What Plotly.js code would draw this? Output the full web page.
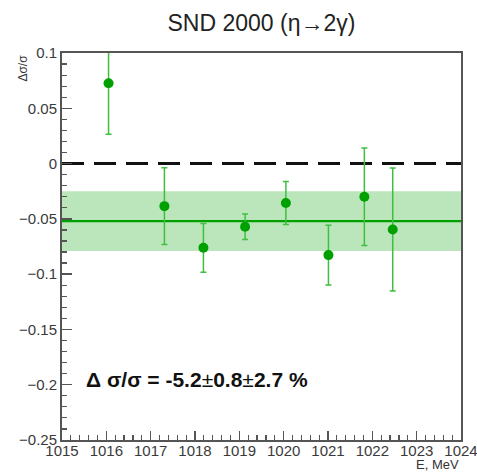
<!DOCTYPE html>
<html>
<head>
<meta charset="utf-8">
<script src="https://cdn.plot.ly/plotly-3.0.1.min.js"></script>
<style>
  html, body { margin: 0; padding: 0; background: #fff; }
  #chart { width: 477px; height: 473px; }
</style>
</head>
<body>
<div id="chart"></div>
<script>
// Beam energy points (MeV) and relative cross-section deviation
const energy = [1016.05, 1017.31, 1018.19, 1019.13, 1020.05, 1021.01, 1021.82, 1022.46];
const deviation = [0.0726, -0.0385, -0.0762, -0.0572, -0.0357, -0.0828, -0.0300, -0.0596];
const deviationErr = [0.046, 0.0347, 0.022, 0.0115, 0.0195, 0.027, 0.044, 0.0557];

// Fitted constant and its systematic band
const fitRange = [1015, 1024];
const fitValue = -0.052;
const fitSyst = 0.027;
const referenceLevel = 0;

const fitLine = fitRange.map(() => fitValue);
const bandUpper = fitRange.map(() => fitValue + fitSyst);
const bandLower = fitRange.map(() => fitValue - fitSyst);
const refLine = fitRange.map(() => referenceLevel);

const font = "Liberation Sans, Arial, Helvetica, sans-serif";

const traces = [
  { x: fitRange, y: bandLower, mode: "lines", line: { width: 0 }, hoverinfo: "skip", showlegend: false },
  { x: fitRange, y: bandUpper, mode: "lines", line: { width: 0 }, fill: "tonexty",
    fillcolor: "rgba(120,205,120,0.5)", hoverinfo: "skip", showlegend: false },
  { x: fitRange, y: fitLine, mode: "lines", line: { color: "#00a000", width: 2.2 }, showlegend: false },
  { x: fitRange, y: refLine, mode: "lines", line: { color: "#111", width: 3, dash: "22px,10px" }, showlegend: false },
  { x: energy, y: deviation, mode: "markers", showlegend: false,
    marker: { color: "#00a000", size: 10 },
    error_y: { type: "data", array: deviationErr, visible: true, color: "#3fbf3f", thickness: 1.5, width: 3 } }
];

const axisCommon = {
  showline: true, linecolor: "#555", linewidth: 2, mirror: true,
  showgrid: false, zeroline: false, ticks: "inside", tickcolor: "#555", tickwidth: 1.5,
  ticklabeloverflow: "allow",
  tickfont: { family: font, size: 15, color: "#3a3a3a" }
};

const layout = {
  width: 477, height: 473,
  margin: { l: 62, r: 16, t: 53, b: 33 },
  paper_bgcolor: "#fff", plot_bgcolor: "#fff",
  title: { text: "SND 2000 (η→2γ)", font: { family: font, size: 23, color: "#222" },
           xref: "paper", x: 0.5, xanchor: "center", yref: "container", y: 0.952, yanchor: "middle" },
  xaxis: Object.assign({}, axisCommon, {
    range: [1015, 1024], dtick: 1, tick0: 1015, ticklen: 9, ticklabelstandoff: -4,
    minor: { dtick: 0.2, ticks: "inside", ticklen: 5, tickcolor: "#555", tickwidth: 1.2 }
  }),
  yaxis: Object.assign({}, axisCommon, {
    range: [-0.25, 0.1], dtick: 0.05, tick0: 0, ticklen: 10, ticklabelstandoff: 0,
    tickformat: ".2~f",
    minor: { dtick: 0.01, ticks: "inside", ticklen: 5, tickcolor: "#555", tickwidth: 1.2 }
  }),
  annotations: [
    { text: "<b>Δ σ/σ = -5.2</b>±<b>0.8</b>±<b>2.7 %</b>", xref: "x", yref: "y", x: 1015.5, y: -0.195,
      xanchor: "left", yanchor: "middle", showarrow: false,
      font: { family: font, size: 21, color: "#111" } },
    { text: "Δσ/σ", xref: "paper", yref: "paper", x: -0.1, y: 1.0, textangle: -90,
      xanchor: "center", yanchor: "top", showarrow: false,
      font: { family: font, size: 12, color: "#333" } },
    { text: "E, MeV", xref: "paper", yref: "paper", x: 1.0, y: -0.064,
      xanchor: "right", yanchor: "middle", showarrow: false,
      font: { family: font, size: 13, color: "#333" } }
  ]
};

Plotly.newPlot("chart", traces, layout, { displayModeBar: false, staticPlot: true });
</script>
</body>
</html>
